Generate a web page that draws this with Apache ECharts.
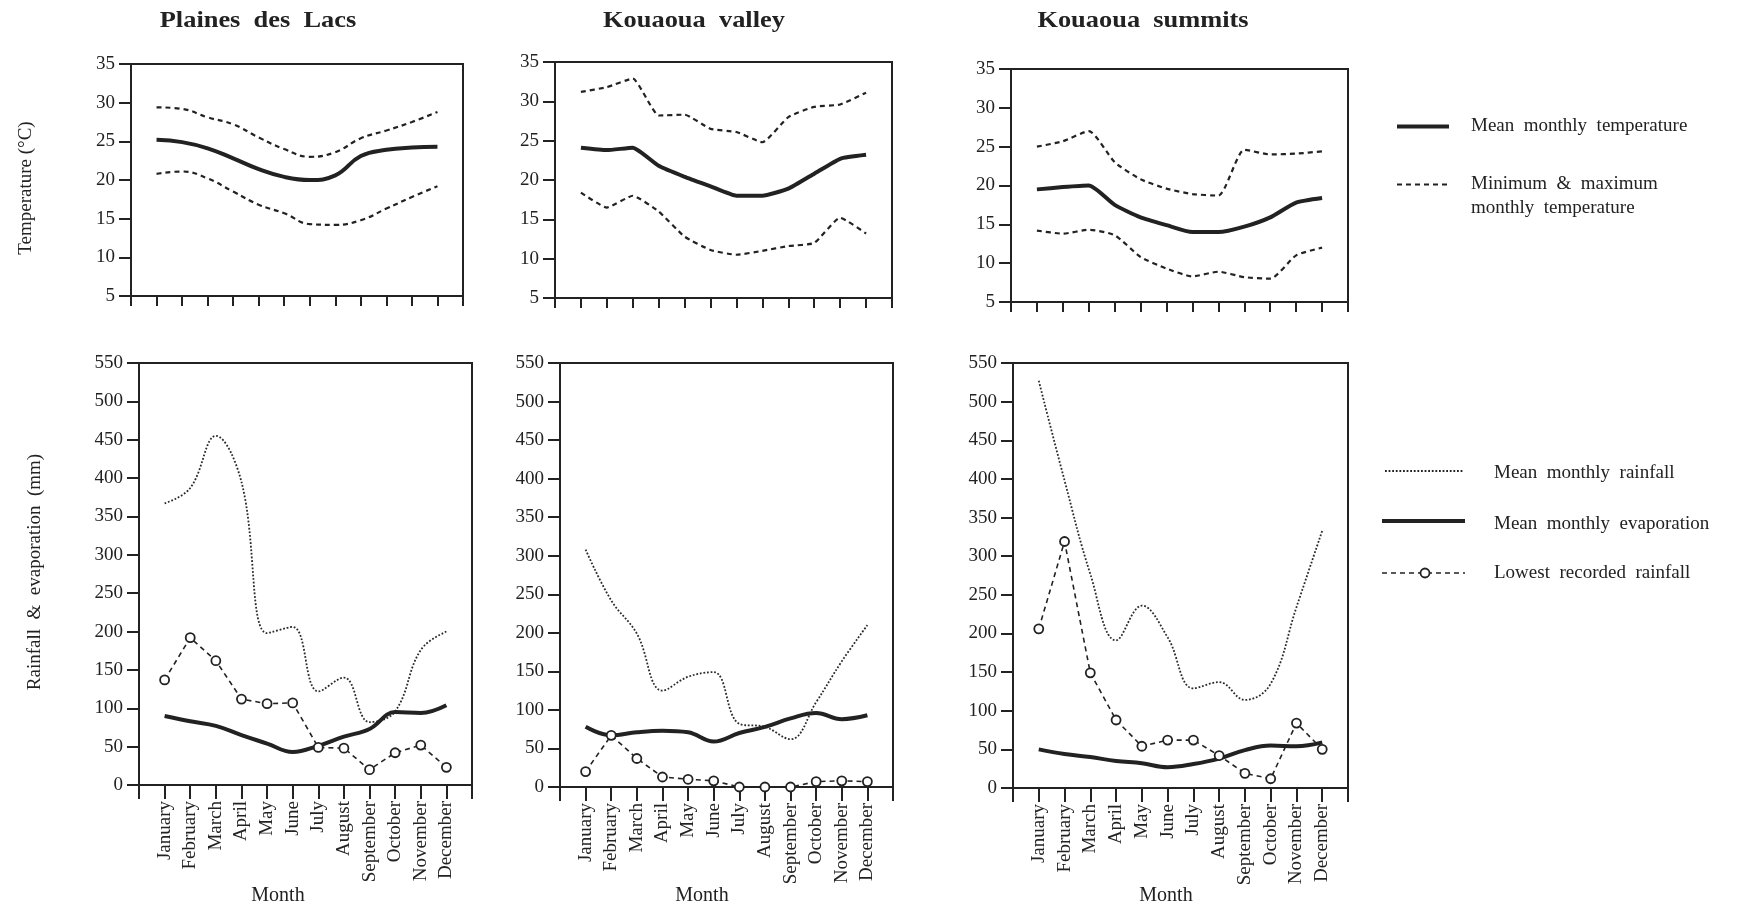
<!DOCTYPE html>
<html><head><meta charset="utf-8">
<script src="https://cdn.jsdelivr.net/npm/echarts@6/dist/echarts.min.js"></script>
<style>html,body{margin:0;padding:0;background:#fff}#c{width:1741px;height:913px}</style>
</head><body><div id="c"></div>
<script>
// ---------- DATA ----------
const months = ['January','February','March','April','May','June','July','August','September','October','November','December'];
const siteTitles = ['Plaines  des  Lacs', 'Kouaoua  valley', 'Kouaoua  summits'];
const tempTickLabels = [5, 10, 15, 20, 25, 30, 35];
const rainTickLabels = [0, 50, 100, 150, 200, 250, 300, 350, 400, 450, 500, 550];

// Temperature (°C)
const lacsMeanTemp   = [25.2, 24.9, 24.1, 22.8, 21.4, 20.4, 20.0, 20.6, 23.1, 23.9, 24.2, 24.3];
const lacsMaxTemp    = [29.4, 29.2, 28.1, 27.2, 25.5, 24.0, 23.0, 23.6, 25.4, 26.4, 27.5, 28.8];
const lacsMinTemp    = [20.8, 21.1, 20.2, 18.5, 16.8, 15.7, 14.3, 14.2, 14.8, 16.3, 17.8, 19.2];

const valleyMeanTemp = [24.1, 23.8, 24.1, 21.8, 20.4, 19.2, 18.0, 18.0, 18.9, 20.8, 22.7, 23.2];
const valleyMaxTemp  = [31.2, 31.8, 32.9, 28.2, 28.3, 26.5, 26.1, 24.8, 28.0, 29.3, 29.6, 31.1];
const valleyMinTemp  = [18.4, 16.5, 18.0, 16.0, 12.8, 11.1, 10.5, 11.0, 11.6, 12.0, 15.2, 13.2];

const summitsMeanTemp = [19.5, 19.8, 20.0, 17.5, 15.9, 14.9, 14.0, 14.0, 14.7, 15.9, 17.8, 18.4];
const summitsMaxTemp  = [25.0, 25.7, 27.0, 23.0, 20.8, 19.6, 18.9, 18.7, 24.6, 24.0, 24.1, 24.4];
const summitsMinTemp  = [14.2, 13.8, 14.3, 13.6, 10.8, 9.3, 8.3, 8.9, 8.2, 8.0, 11.0, 12.0];

// Rainfall & evaporation (mm)
const lacsRain      = [367, 387, 455, 395, 198, 206, 122, 140, 82, 96, 176, 200];
const lacsEvap      = [90, 83, 77, 65, 54, 43, 51, 63, 73, 95, 94, 104];
const lacsLowest    = [137, 192, 162, 112, 106, 107, 49, 48, 20, 42, 52, 23];

const valleyRain    = [308, 242, 199, 125, 143, 149, 82, 78, 62, 110, 163, 210];
const valleyEvap    = [78, 67, 71, 73, 71, 59, 70, 78, 89, 96, 88, 93];
const valleyLowest  = [20, 67, 37, 13, 10, 8, 0, 0, 0, 7, 8, 7];

const summitsRain   = [527, 398, 277, 191, 236, 195, 129, 137, 114, 135, 234, 333];
const summitsEvap   = [50, 44, 40, 35, 32, 27, 31, 38, 49, 55, 54, 59];
const summitsLowest = [206, 319, 149, 88, 54, 62, 62, 42, 19, 12, 84, 50];

// ---------- LAYOUT / STYLE ----------
const FONT = "'Liberation Serif','Times New Roman',serif";
const INK = '#222';
const topGrids = [
  {left: 131, top: 64, width: 332, height: 232},
  {left: 555, top: 62, width: 337, height: 236},
  {left: 1011, top: 69, width: 337, height: 233}
];
const bottomGrids = [
  {left: 139, top: 363, width: 333, height: 422},
  {left: 560, top: 363, width: 333, height: 424},
  {left: 1013, top: 363, width: 335, height: 425}
];
const titleX = [258, 694, 1143];
const monthNameX = [278, 702, 1166];

const tempSets = [
  [lacsMeanTemp, lacsMaxTemp, lacsMinTemp, 0.45],
  [valleyMeanTemp, valleyMaxTemp, valleyMinTemp, 0.15],
  [summitsMeanTemp, summitsMaxTemp, summitsMinTemp, 0.2]
];
const rainSets = [
  [lacsRain, lacsEvap, lacsLowest],
  [valleyRain, valleyEvap, valleyLowest],
  [summitsRain, summitsEvap, summitsLowest]
];

const pts = arr => arr.map((v, i) => [i + 1, v]);
const RAIN_DASH = [1.8, 1.8];

const grid = [], xAxis = [], yAxis = [], series = [];
function addPanel(g, isTop) {
  const idx = grid.length;
  grid.push(Object.assign({show: true, borderColor: INK, borderWidth: 2, containLabel: false}, g));
  xAxis.push({
    type: 'value', gridIndex: idx, min: 0, max: 13, interval: 1,
    axisLine: {show: true, lineStyle: {color: INK, width: 2}},
    axisTick: {show: true, inside: false, length: isTop ? 10 : 14, lineStyle: {color: INK, width: 2}},
    splitLine: {show: false},
    axisLabel: isTop ? {show: false} : {
      show: true, rotate: 90, margin: 16, color: INK, fontFamily: FONT, fontSize: 19,
      formatter: v => (v >= 1 && v <= 12) ? months[v - 1] : ''
    }
  });
  const ticks = isTop ? tempTickLabels : rainTickLabels;
  yAxis.push({
    type: 'value', gridIndex: idx, min: ticks[0], max: ticks[ticks.length - 1],
    interval: ticks[1] - ticks[0],
    axisLine: {show: true, lineStyle: {color: INK, width: 2}},
    axisTick: {show: true, inside: false, length: 12, lineStyle: {color: INK, width: 2}},
    splitLine: {show: false},
    axisLabel: {margin: 16, color: INK, fontFamily: FONT, fontSize: 19}
  });
  return idx;
}

topGrids.forEach((g, k) => {
  const i = addPanel(g, true);
  const [mean, mx, mn, sm] = tempSets[k];
  series.push({type: 'line', xAxisIndex: i, yAxisIndex: i, data: pts(mean), symbol: 'none', smooth: sm,
    lineStyle: {color: INK, width: 4}, z: 3});
  [mx, mn].forEach(arr => series.push({type: 'line', xAxisIndex: i, yAxisIndex: i, data: pts(arr), symbol: 'none', smooth: sm,
    lineStyle: {color: INK, width: 2.2, type: [5, 4]}, z: 2}));
});

bottomGrids.forEach((g, k) => {
  const i = addPanel(g, false);
  const [rain, evap, low] = rainSets[k];
  series.push({type: 'line', xAxisIndex: i, yAxisIndex: i, data: pts(rain), symbol: 'none', smooth: 0.4,
    lineStyle: {color: '#2a2a2a', width: 1.8, type: RAIN_DASH}, z: 2});
  series.push({type: 'line', xAxisIndex: i, yAxisIndex: i, data: pts(evap), symbol: 'none', smooth: 0.4,
    lineStyle: {color: INK, width: 4}, z: 3});
  series.push({type: 'line', xAxisIndex: i, yAxisIndex: i, data: pts(low), smooth: false,
    symbol: 'circle', symbolSize: 9, showSymbol: true,
    itemStyle: {color: '#fff', borderColor: INK, borderWidth: 1.8},
    lineStyle: {color: INK, width: 1.6, type: [5, 4]}, z: 4});
});

// ---------- TEXT / LEGENDS ----------
const graphic = [];
siteTitles.forEach((t, k) => graphic.push({type: 'text', x: titleX[k], y: 21, scaleX: 1.1,
  style: {text: t, font: 'bold 24px ' + FONT, fill: INK, textAlign: 'center', textVerticalAlign: 'middle'}}));
monthNameX.forEach(x => graphic.push({type: 'text', x: x, y: 896,
  style: {text: 'Month', font: '20px ' + FONT, fill: INK, textAlign: 'center', textVerticalAlign: 'middle'}}));
graphic.push({type: 'text', x: 26, y: 188, rotation: Math.PI / 2,
  style: {text: 'Temperature (°C)', font: '19px ' + FONT, fill: INK, textAlign: 'center', textVerticalAlign: 'middle'}});
graphic.push({type: 'text', x: 35, y: 572, rotation: Math.PI / 2,
  style: {text: 'Rainfall  &  evaporation  (mm)', font: '19px ' + FONT, fill: INK, textAlign: 'center', textVerticalAlign: 'middle'}});

function legText(x, y, t) {
  graphic.push({type: 'text', x: x, y: y,
    style: {text: t, font: '19px ' + FONT, fill: INK, textAlign: 'left', textVerticalAlign: 'middle'}});
}
function legLine(x1, x2, y, w, dash) {
  graphic.push({type: 'line', shape: {x1: x1, y1: y, x2: x2, y2: y},
    style: {stroke: INK, lineWidth: w, lineDash: dash || null}});
}
legLine(1397, 1449, 126.5, 4);
legText(1471, 126.5, 'Mean  monthly  temperature');
legLine(1397, 1449, 184.5, 2.2, [5, 4]);
legText(1471, 184.5, 'Minimum  &  maximum');
legText(1471, 208, 'monthly  temperature');

legLine(1385, 1464, 471, 1.8, RAIN_DASH);
legText(1494, 473, 'Mean  monthly  rainfall');
legLine(1382, 1465, 521, 4);
legText(1494, 524, 'Mean  monthly  evaporation');
legLine(1382, 1465, 573, 1.6, [5, 4]);
graphic.push({type: 'circle', shape: {cx: 1425, cy: 573, r: 4.5}, style: {fill: '#fff', stroke: INK, lineWidth: 1.8}});
legText(1494, 573, 'Lowest  recorded  rainfall');

const chart = echarts.init(document.getElementById('c'), null, {renderer: 'canvas'});
chart.setOption({
  backgroundColor: '#fff',
  animation: false,
  textStyle: {fontFamily: FONT},
  grid, xAxis, yAxis, series, graphic
});
</script></body></html>
